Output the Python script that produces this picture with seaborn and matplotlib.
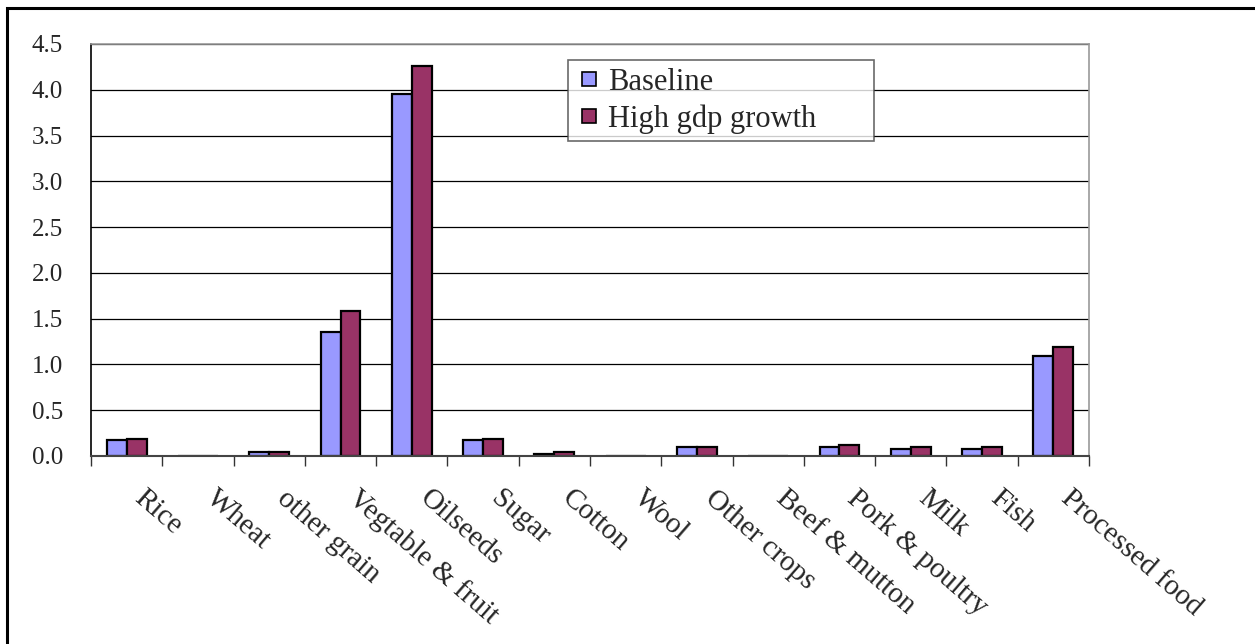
import matplotlib
matplotlib.use("Agg")
import matplotlib.pyplot as plt
import matplotlib.patches as mpatches
import matplotlib.transforms as mtransforms
from matplotlib.legend_handler import HandlerPatch
from matplotlib.ticker import FixedLocator
import seaborn as sns
import pandas as pd
import numpy as np

categories = ["Rice", "Wheat", "other grain", "Vegtable & fruit", "Oilseeds", "Sugar",
              "Cotton", "Wool", "Other crops", "Beef & mutton", "Pork & poultry",
              "Milk", "Fish", "Processed food"]
baseline = [0.17, 0.0, 0.04, 1.35, 3.95, 0.17, 0.02, 0.0, 0.10, 0.0, 0.10, 0.08, 0.08, 1.09]
high_gdp = [0.19, 0.0, 0.04, 1.58, 4.26, 0.19, 0.04, 0.0, 0.10, 0.0, 0.12, 0.10, 0.10, 1.19]
series_names = ["Baseline", "High gdp growth"]
y_ticks = [0.0, 0.5, 1.0, 1.5, 2.0, 2.5, 3.0, 3.5, 4.0, 4.5]

df = pd.DataFrame({
    "category": categories * 2,
    "value": baseline + high_gdp,
    "scenario": [series_names[0]] * len(categories) + [series_names[1]] * len(categories),
})

sns.set_theme(style="white")
plt.rcParams["font.family"] = ["Liberation Serif", "DejaVu Serif"]

W, H = 1255, 644
fig = plt.figure(figsize=(W / 100, H / 100), dpi=100)
ax_l, ax_r, ax_t, ax_b = 91, 1089, 44, 456
ax = fig.add_axes([ax_l / W, 1 - ax_b / H, (ax_r - ax_l) / W, (ax_b - ax_t) / H])

palette = {"Baseline": "#9999FF", "High gdp growth": "#993366"}
sns.barplot(data=df, x="category", y="value", hue="scenario", order=categories,
            hue_order=series_names, palette=palette, width=0.56, dodge=True,
            edgecolor="black", linewidth=1.6, saturation=1, ax=ax, legend=False)

ax.set_ylim(0, 4.5)
ax.set_xlim(-0.5, len(categories) - 0.5)
ax.set_yticks(y_ticks)
ax.set_yticklabels([f"{v:.1f}" for v in y_ticks], fontsize=18)
ax.yaxis.grid(True, color="black", linewidth=0.9)
ax.set_axisbelow(True)
ax.set_xlabel("")
ax.set_ylabel("")

# category labels slanted down to the right
ax.set_xticks(range(len(categories)))
ax.set_xticklabels(categories, fontsize=21, rotation=-41, ha="left", va="top",
                   rotation_mode="anchor")
ax.tick_params(axis="x", which="major", length=0, pad=10)
ax.tick_params(axis="y", which="major", length=0, pad=20)
shift = mtransforms.ScaledTranslation(20 / 100, -15 / 100, fig.dpi_scale_trans)
for lab in ax.get_xticklabels():
    lab.set_transform(lab.get_transform() + shift)

# separator ticks between category groups
ax.xaxis.set_minor_locator(FixedLocator(np.arange(-0.5, len(categories), 1.0)))
ax.tick_params(axis="x", which="minor", length=7, width=1, color="#333333",
               direction="out", bottom=True)

for side in ["top", "right"]:
    ax.spines[side].set_visible(True)
    ax.spines[side].set_color("#999999")
    ax.spines[side].set_linewidth(1.2)
ax.spines["left"].set_color("black")
ax.spines["left"].set_linewidth(1.2)
ax.spines["bottom"].set_color("#444444")
ax.spines["bottom"].set_linewidth(1.5)


def square_key(legend, orig_handle, xdescent, ydescent, width, height, fontsize):
    # small square key pushed to the right end of the handle slot
    side = 10.0
    return mpatches.Rectangle((-xdescent + width - side, -ydescent + (height - side) / 2),
                              side, side)


# legend box spanning a fixed width inside the plot area
lx0, lx1, ly0, ly1 = 568, 874, 60, 140
pw, ph = ax_r - ax_l, ax_b - ax_t
handles = [mpatches.Patch(facecolor=palette[n], edgecolor="black", linewidth=1.2, label=n)
           for n in series_names]
leg = ax.legend(handles=handles, loc="upper left", mode="expand",
                bbox_to_anchor=((lx0 - ax_l) / pw, 1 - (ly1 - ax_t) / ph,
                                (lx1 - lx0) / pw, (ly1 - ly0) / ph),
                handler_map={mpatches.Patch: HandlerPatch(patch_func=square_key)},
                fontsize=22, frameon=True, fancybox=False, handlelength=0.67,
                handleheight=0.7, handletextpad=0.39, borderpad=0.25, labelspacing=0.25,
                borderaxespad=0)
leg.get_frame().set_edgecolor("#444444")
leg.get_frame().set_linewidth(1.2)

# outer chart frame
fig.add_artist(mpatches.Rectangle((7 / W, -0.05), 1.1, 1 - 8 / H + 0.05,
                                  transform=fig.transFigure, fill=False,
                                  edgecolor="black", linewidth=2.2))

fig.savefig("out.png", dpi=100, facecolor="white")
